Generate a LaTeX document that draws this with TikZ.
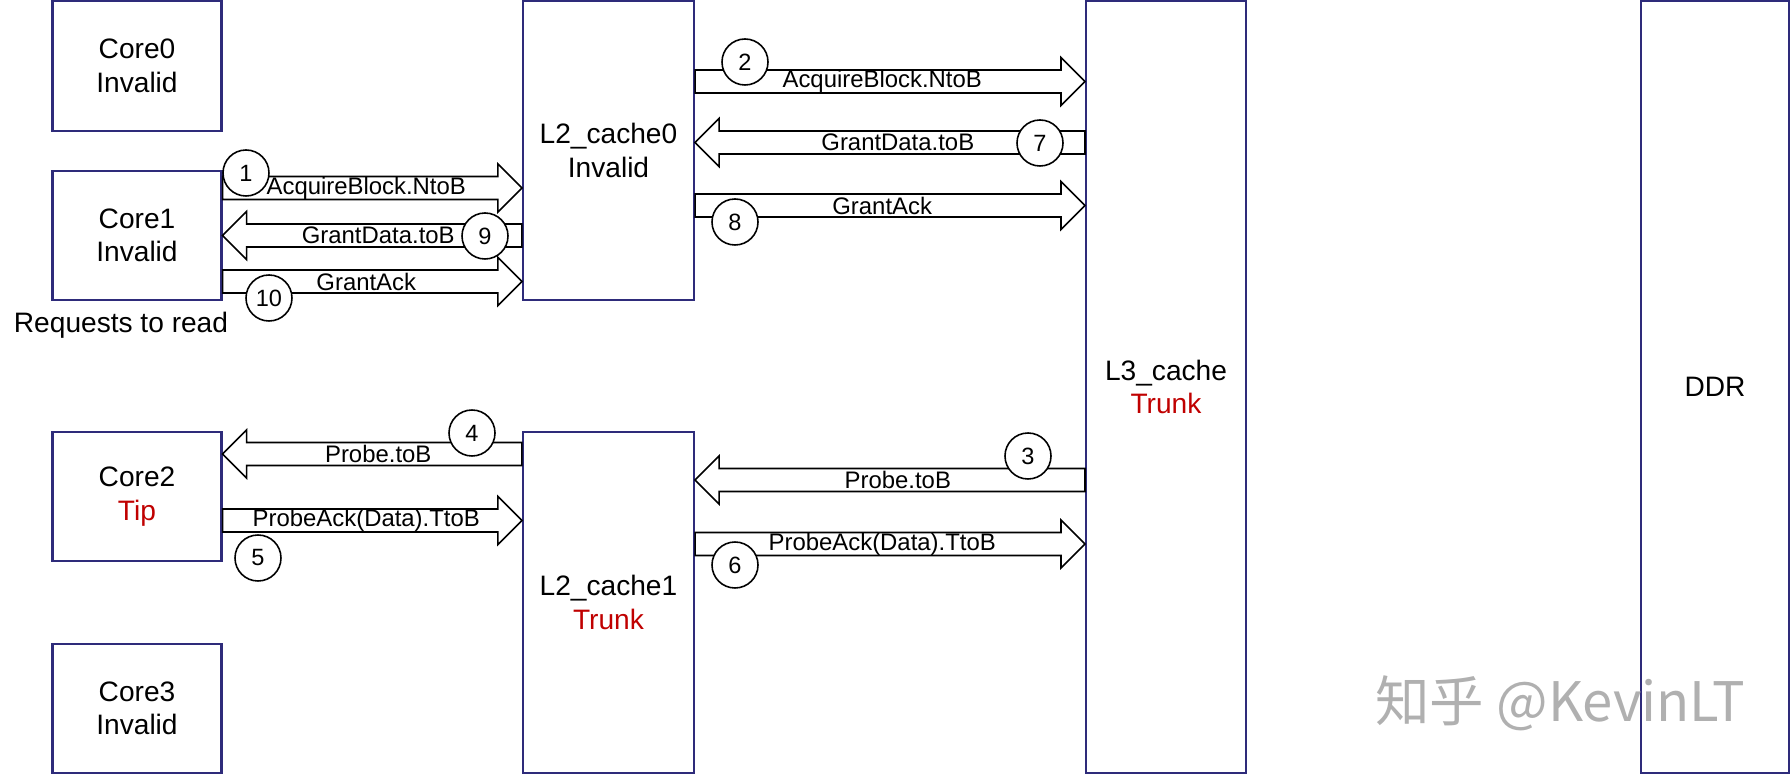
\documentclass[tikz,border=0pt]{standalone}
\usepackage{fontspec}
\setmainfont{Liberation Sans}
\newfontfamily\cjkfont{Noto Sans CJK SC}
\usepackage{xcolor}
\usepackage{tikz}
\usetikzlibrary{calc, positioning}
\definecolor{boxnavy}{HTML}{2E2B7A}
\definecolor{statered}{HTML}{C00000}
\definecolor{markgray}{HTML}{B0B0B0}

\tikzset{
  unit/.style={draw=boxnavy, line width=1.2pt, fill=white, align=center,
               inner sep=0pt, font=\fontsize{16}{19}\selectfont},
  fatarr/.style={draw=black, line width=0.9pt, fill=white, line join=miter},
  msg/.style={inner sep=0pt, font=\fontsize{13.6}{16}\selectfont},
  seqnum/.style={circle, draw=black, line width=0.9pt, fill=white,
                 minimum size=0.92cm, inner sep=0pt,
                 font=\fontsize{13.4}{16}\selectfont}
}

%% hollow block arrow: name, tail anchor, tip anchor, height, label
\newcommand{\fatarrow}[5]{%
  \coordinate (#1-t) at (#2 |- 0,#4);
  \coordinate (#1-h) at (#3 |- 0,#4);
  \draw[fatarr] ($(#1-t)+(0,0.23)$) -- ($(#1-h)!0.48cm!(#1-t)+(0,0.23)$)
    -- ($(#1-h)!0.48cm!(#1-t)+(0,0.48)$) -- (#1-h)
    -- ($(#1-h)!0.48cm!(#1-t)-(0,0.48)$) -- ($(#1-h)!0.48cm!(#1-t)-(0,0.23)$)
    -- ($(#1-t)-(0,0.23)$) -- cycle;
  \node[msg] (#1-lbl) at ($(#1-t)!0.48!(#1-h)$) {#5};
}

\begin{document}
\begin{tikzpicture}
  \useasboundingbox (0,0) rectangle (35.82,15.5);

  %% --- cores ---
  \node[unit, minimum width=3.38cm, minimum height=2.6cm]  (core0) at (2.74,14.18) {Core0\\Invalid};
  \node[unit, minimum width=3.38cm, minimum height=2.58cm] (core1) at (2.74,10.79) {Core1\\Invalid};
  \node[unit, minimum width=3.38cm, minimum height=2.58cm] (core2) at (2.74,5.57)  {Core2\\\textcolor{statered}{Tip}};
  \node[unit, minimum width=3.38cm, minimum height=2.58cm] (core3) at (2.74,1.33)  {Core3\\Invalid};
  \node[font=\fontsize{16}{19}\selectfont] (req) at (2.42,9.0) {Requests to read};

  %% --- caches and memory ---
  \node[unit, minimum width=3.42cm, minimum height=5.98cm]  (l2a) at (12.17,12.49) {L2\_cache0\\Invalid};
  \node[unit, minimum width=3.42cm, minimum height=6.82cm]  (l2b) at (12.17,3.45)  {L2\_cache1\\\textcolor{statered}{Trunk}};
  \node[unit, minimum width=3.2cm,  minimum height=15.44cm] (l3)  at (23.32,7.76)  {L3\_cache\\\textcolor{statered}{Trunk}};
  \node[unit, minimum width=2.96cm, minimum height=15.44cm] (ddr) at (34.3,7.76)   {DDR};

  %% --- messages, core side ---
  \fatarrow{m1}{core1.east}{l2a.west}{11.74}{AcquireBlock.NtoB}
  \fatarrow{m9}{l2a.west}{core1.east}{10.79}{GrantData.toB}
  \fatarrow{m10}{core1.east}{l2a.west}{9.87}{GrantAck}
  \fatarrow{m4}{l2b.west}{core2.east}{6.42}{Probe.toB}
  \fatarrow{m5}{core2.east}{l2b.west}{5.09}{ProbeAck(Data).TtoB}

  %% --- messages, L3 side ---
  \fatarrow{m2}{l2a.east}{l3.west}{13.87}{AcquireBlock.NtoB}
  \fatarrow{m7}{l3.west}{l2a.east}{12.65}{GrantData.toB}
  \fatarrow{m8}{l2a.east}{l3.west}{11.39}{GrantAck}
  \fatarrow{m3}{l3.west}{l2b.east}{5.9}{Probe.toB}
  \fatarrow{m6}{l2b.east}{l3.west}{4.62}{ProbeAck(Data).TtoB}

  %% --- step numbers ---
  \node[seqnum] (n1)  at (4.92,12.04) {1};
  \node[seqnum] (n2)  at (14.9,14.26) {2};
  \node[seqnum] (n3)  at (20.56,6.38) {3};
  \node[seqnum] (n4)  at (9.44,6.84)  {4};
  \node[seqnum] (n5)  at (5.16,4.34)  {5};
  \node[seqnum] (n6)  at (14.7,4.2)   {6};
  \node[seqnum] (n7)  at (20.8,12.64) {7};
  \node[seqnum] (n8)  at (14.7,11.06) {8};
  \node[seqnum] (n9)  at (9.7,10.78)  {9};
  \node[seqnum] (n10) at (5.38,9.54)  {10};

  \node[font=\cjkfont\fontsize{31}{36}\selectfont, text=markgray] (mark) at (31.2,1.44) {知乎 @KevinLT};
\end{tikzpicture}
\end{document}
